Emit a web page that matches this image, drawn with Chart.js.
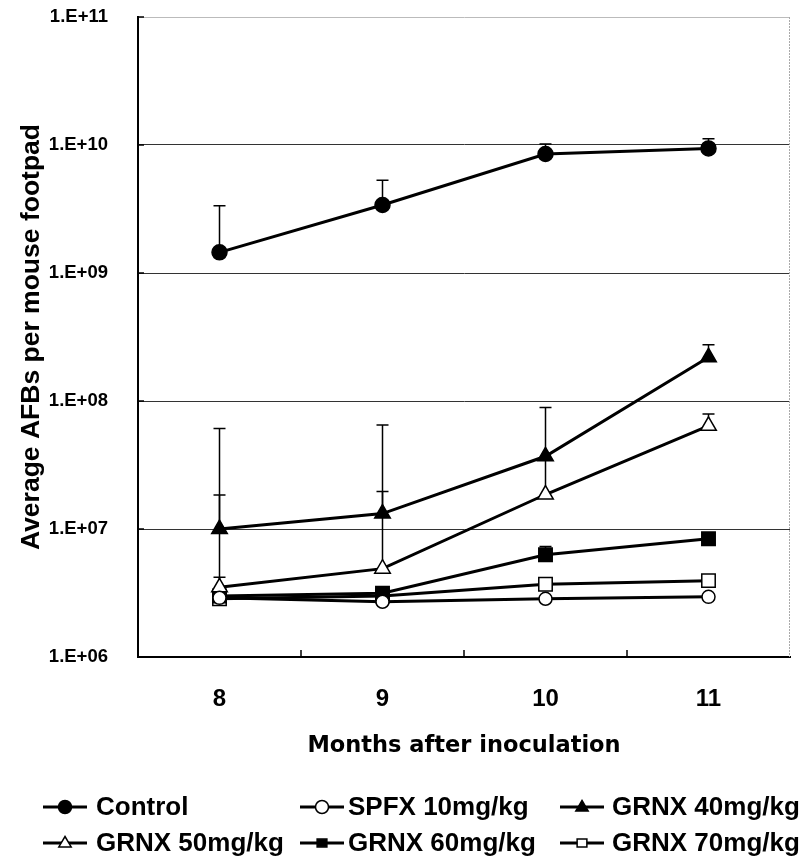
<!DOCTYPE html>
<html><head><meta charset="utf-8">
<script src="https://cdn.jsdelivr.net/npm/chart.js@4.4.1/dist/chart.umd.min.js"></script>
<style>html,body{margin:0;padding:0;background:#fff;}canvas{display:block}</style>
</head><body>
<canvas id="c" width="805" height="862"></canvas>
<script>
// ---- data ----
const months = ['8', '9', '10', '11'];
const seriesNames = ['Control', 'SPFX 10mg/kg', 'GRNX 40mg/kg', 'GRNX 50mg/kg', 'GRNX 60mg/kg', 'GRNX 70mg/kg'];
const control    = [1.45e9, 3.4e9, 8.5e9, 9.4e9];
const controlErr = [3.35e9, 5.3e9, 1.02e10, 1.12e10];
const spfx10     = [2.9e6, 2.7e6, 2.85e6, 2.95e6];
const spfx10Err  = [null, null, null, null];
const grnx40     = [1.0e7, 1.32e7, 3.7e7, 2.2e8];
const grnx40Err  = [6.1e7, 6.5e7, 8.9e7, 2.75e8];
const grnx50     = [3.5e6, 4.9e6, 1.86e7, 6.4e7];
const grnx50Err  = [1.84e7, 1.96e7, 3.5e7, 7.9e7];
const grnx60     = [3.0e6, 3.15e6, 6.3e6, 8.4e6];
const grnx60Err  = [4.2e6, null, 7.3e6, null];
const grnx70     = [2.85e6, 3.0e6, 3.7e6, 3.95e6];
const grnx70Err  = [null, null, null, null];
const yTickValues = [1e6, 1e7, 1e8, 1e9, 1e10, 1e11];
const yTickLabels = ['1.E+06', '1.E+07', '1.E+08', '1.E+09', '1.E+10', '1.E+11'];
const xTitle = 'Months after inoculation';
const yTitle = 'Average AFBs per mouse footpad';

// ---- styles ----
const seriesValues = [control, spfx10, grnx40, grnx50, grnx60, grnx70];
const seriesErrs = [controlErr, spfx10Err, grnx40Err, grnx50Err, grnx60Err, grnx70Err];
const markers = [
  {style: 'circle', radius: 7.5, fill: '#000'},
  {style: 'circle', radius: 6.5, fill: '#fff'},
  {style: 'triangle', radius: 9, fill: '#000'},
  {style: 'triangle', radius: 9, fill: '#fff'},
  {style: 'rect', radius: 9.5, fill: '#000'},
  {style: 'rect', radius: 9.5, fill: '#fff'}
];
const sansFont = "'Liberation Sans', Arial, sans-serif";
const wideFont = "'DejaVu Sans', 'Liberation Sans', sans-serif";

const datasets = seriesNames.map((name, i) => ({
  label: name,
  data: seriesValues[i],
  errTop: seriesErrs[i],
  borderColor: '#000',
  borderWidth: 3,
  pointStyle: markers[i].style,
  pointRadius: markers[i].radius,
  pointBackgroundColor: markers[i].fill,
  pointBorderColor: '#000',
  pointBorderWidth: 1.5,
  fill: false,
  tension: 0
}));

const errorBars = {
  id: 'errorBars',
  beforeDatasetsDraw(chart) {
    const ctx = chart.ctx, y = chart.scales.y;
    ctx.save();
    ctx.strokeStyle = '#000';
    ctx.lineWidth = 1.5;
    chart.data.datasets.forEach((ds, di) => {
      const meta = chart.getDatasetMeta(di);
      (ds.errTop || []).forEach((e, i) => {
        if (e == null) return;
        const x = meta.data[i].x;
        const y0 = y.getPixelForValue(ds.data[i]);
        const y1 = y.getPixelForValue(e);
        ctx.beginPath();
        ctx.moveTo(x, y0); ctx.lineTo(x, y1);
        ctx.moveTo(x - 6, y1); ctx.lineTo(x + 6, y1);
        ctx.stroke();
      });
    });
    ctx.restore();
  }
};

const frame = {
  id: 'frame',
  beforeDatasetsDraw(chart) {
    const ctx = chart.ctx, a = chart.chartArea, xs = chart.scales.x, ys = chart.scales.y;
    ctx.save();
    ctx.strokeStyle = '#aaa';
    ctx.lineWidth = 1;
    ctx.setLineDash([2, 1]);
    ctx.beginPath();
    ctx.moveTo(a.right - 0.5, a.top); ctx.lineTo(a.right - 0.5, a.bottom);
    ctx.stroke();
    ctx.setLineDash([]);
    ctx.strokeStyle = '#000';
    ctx.lineWidth = 1.5;
    for (let i = 1; i < months.length; i++) {
      const px = (xs.getPixelForValue(i - 1) + xs.getPixelForValue(i)) / 2;
      ctx.beginPath();
      ctx.moveTo(px, a.bottom); ctx.lineTo(px, a.bottom - 7);
      ctx.stroke();
    }
    yTickValues.forEach(v => {
      const py = ys.getPixelForValue(v);
      ctx.beginPath();
      ctx.moveTo(a.left, py); ctx.lineTo(a.left + 6, py);
      ctx.stroke();
    });
    ctx.restore();
  }
};

function drawMarker(ctx, m, x, y, r) {
  ctx.fillStyle = m.fill;
  ctx.strokeStyle = '#000';
  ctx.lineWidth = 1.5;
  ctx.beginPath();
  if (m.style === 'circle') {
    ctx.arc(x, y, r, 0, Math.PI * 2);
  } else if (m.style === 'triangle') {
    ctx.moveTo(x, y - r);
    ctx.lineTo(x + r * 0.95, y + r * 0.6);
    ctx.lineTo(x - r * 0.95, y + r * 0.6);
    ctx.closePath();
  } else {
    ctx.rect(x - r * 0.75, y - r * 0.6, r * 1.5, r * 1.2);
  }
  ctx.fill();
  ctx.stroke();
}

const legendPlugin = {
  id: 'customLegend',
  afterDraw(chart) {
    const ctx = chart.ctx;
    const lineCols = [43, 300, 560];
    const textCols = [96, 348, 612];
    const rows = [807, 843];
    ctx.save();
    ctx.font = 'bold 26px ' + sansFont;
    ctx.textBaseline = 'middle';
    chart.data.datasets.forEach((ds, i) => {
      const c = i % 3, y = rows[Math.floor(i / 3)];
      const x = lineCols[c];
      ctx.strokeStyle = '#000';
      ctx.lineWidth = 3;
      ctx.beginPath();
      ctx.moveTo(x, y); ctx.lineTo(x + 44, y);
      ctx.stroke();
      drawMarker(ctx, markers[i], x + 22, y, 6.5);
      ctx.fillStyle = '#000';
      ctx.fillText(ds.label, textCols[c], y + 1);
    });
    ctx.restore();
  }
};

new Chart(document.getElementById('c'), {
  type: 'line',
  data: {labels: months, datasets},
  plugins: [errorBars, frame, legendPlugin],
  options: {
    responsive: false,
    animation: false,
    layout: {padding: {left: 0, right: 15, top: 17, bottom: 105}},
    plugins: {legend: {display: false}, tooltip: {enabled: false}},
    scales: {
      x: {
        type: 'category',
        offset: true,
        grid: {display: false, drawTicks: false},
        border: {display: true, color: '#000', width: 2},
        ticks: {color: '#000', padding: 28, font: {family: sansFont, size: 24, weight: 'bold'}},
        title: {display: true, text: xTitle, color: '#000', padding: {top: 0, bottom: -3}, font: {family: wideFont, size: 22.5, weight: 'bold'}},
        afterFit(s) { s.height = 100; }
      },
      y: {
        type: 'logarithmic',
        min: yTickValues[0],
        max: yTickValues[yTickValues.length - 1],
        afterBuildTicks(s) { s.ticks = yTickValues.map(v => ({value: v})); },
        grid: {
          drawTicks: true,
          tickLength: 30,
          tickColor: 'rgba(0,0,0,0)',
          lineWidth: 1,
          color: c => (c.tick && c.tick.value === 1e11) ? '#bbb' : '#333'
        },
        border: {display: true, color: '#000', width: 2},
        ticks: {
          color: '#000', padding: 0, autoSkip: false,
          font: {family: sansFont, size: 18.5, weight: 'bold'},
          callback: (v) => { const k = yTickValues.indexOf(v); return k >= 0 ? yTickLabels[k] : ''; }
        },
        title: {display: true, text: yTitle, color: '#000', padding: {top: 16, bottom: 0}, font: {family: sansFont, size: 26.5, weight: 'bold'}},
        afterFit(s) { s.width = 138; }
      }
    }
  }
});
</script>
</body></html>
